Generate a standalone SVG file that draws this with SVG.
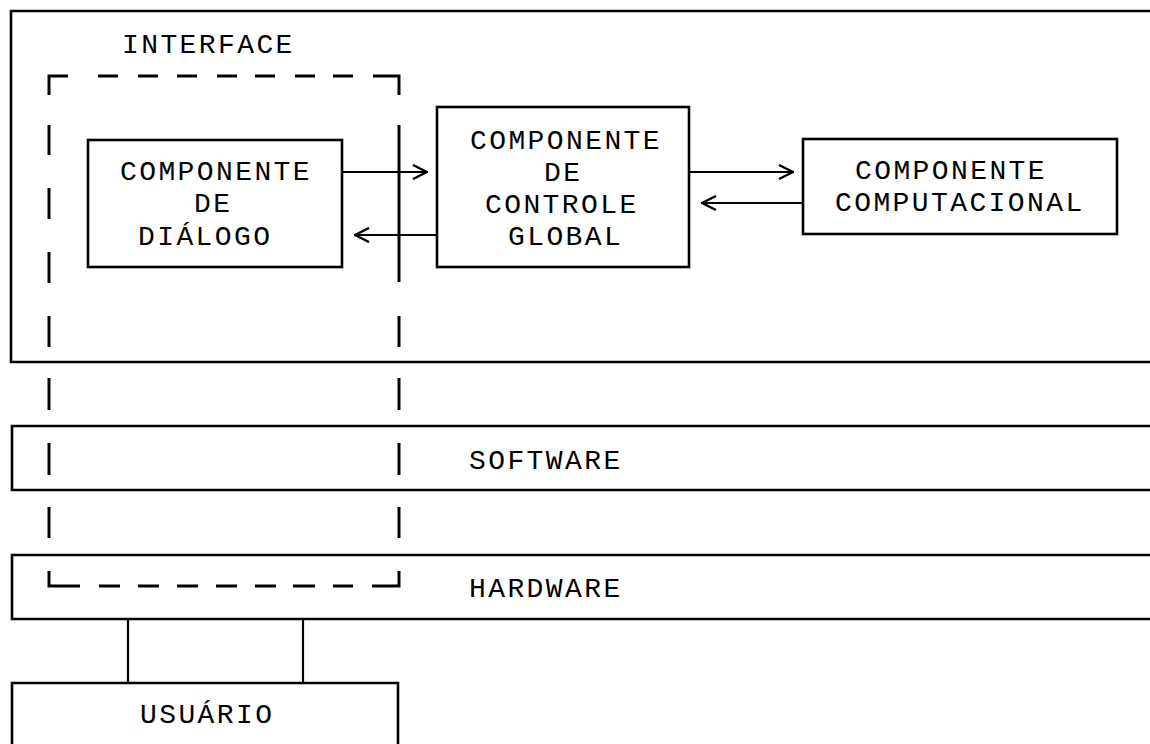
<svg xmlns="http://www.w3.org/2000/svg" width="1150" height="744" viewBox="0 0 1150 744">
<style>
  .box { fill: none; stroke: #000; stroke-width: 2.6; }
  .dash { fill: none; stroke: #000; stroke-width: 3; }
  .t { font-family: "Liberation Mono", "Courier New", monospace; font-size: 28px; letter-spacing: 2.4px; fill: #000; }
  .link { fill: none; stroke: #000; stroke-width: 2.2; }
  .arrow { fill: none; stroke: #000; stroke-width: 2.2; marker-end: url(#chev); }
</style>
<defs>
  <marker id="chev" markerUnits="userSpaceOnUse" viewBox="0 0 16 16" refX="15" refY="8" markerWidth="16" markerHeight="16" orient="auto">
    <path d="M1,1 L15,8 L1,15" fill="none" stroke="#000" stroke-width="2.4"/>
  </marker>
</defs>
<rect width="1150" height="744" fill="#fff"/>

<g id="interface">
  <path class="box" d="M1155,11 H11 V362 H1155"/>
  <text class="t" x="122" y="53">INTERFACE</text>
  <g id="interface-boundary" class="dash">
    <path d="M49,95 V76 H68"/>
    <path d="M98,76 H118 M138,76 H158 M177,76 H197 M217,76 H237 M255,76 H275 M295,76 H315 M333,76 H353"/>
    <path d="M373,76 H399 V95"/>
    <path d="M49,571 V586 H80"/>
    <path d="M99,586 H120 M138,586 H159 M177,586 H198 M216,586 H237 M255,586 H276 M293,586 H315 M333,586 H353"/>
    <path d="M372,586 H399 V571"/>
    <path d="M49,125 V155 M49,188 V219 M49,252 V283 M49,316 V347 M49,378 V410 M49,443 V475 M49,507 V538"/>
    <path d="M399,125 V282 M399,316 V347 M399,378 V410 M399,443 V475 M399,507 V538"/>
  </g>
</g>

<g id="dialogo">
  <rect class="box" x="88" y="140" width="254" height="127"/>
  <text class="t" x="120" y="180">COMPONENTE</text>
  <text class="t" x="194" y="212">DE</text>
  <text class="t" x="138" y="245">DIÁLOGO</text>
</g>

<g id="controle">
  <rect class="box" x="437" y="107" width="252" height="160"/>
  <text class="t" x="470" y="149">COMPONENTE</text>
  <text class="t" x="544" y="181">DE</text>
  <text class="t" x="485" y="213">CONTROLE</text>
  <text class="t" x="508" y="245">GLOBAL</text>
</g>

<g id="computacional">
  <rect class="box" x="803" y="139" width="314" height="95"/>
  <text class="t" x="855" y="179">COMPONENTE</text>
  <text class="t" x="835" y="211">COMPUTACIONAL</text>
</g>

<g id="software">
  <path class="box" d="M1155,426 H12 V490 H1155"/>
  <text class="t" x="469" y="469">SOFTWARE</text>
</g>

<g id="hardware">
  <path class="box" d="M1155,555 H12 V619 H1155"/>
  <text class="t" x="469" y="597">HARDWARE</text>
</g>

<g id="usuario">
  <path class="box" d="M12,750 V683 H398 V750"/>
  <text class="t" x="140" y="723">USUÁRIO</text>
</g>

<g id="connectors">
  <path class="arrow" d="M342,172 H427"/>
  <path class="arrow" d="M437,235 H355"/>
  <path class="arrow" d="M689,172 H793"/>
  <path class="arrow" d="M803,203 H702"/>
  <path class="link" d="M128,619 V683"/>
  <path class="link" d="M303,619 V683"/>
</g>
</svg>
